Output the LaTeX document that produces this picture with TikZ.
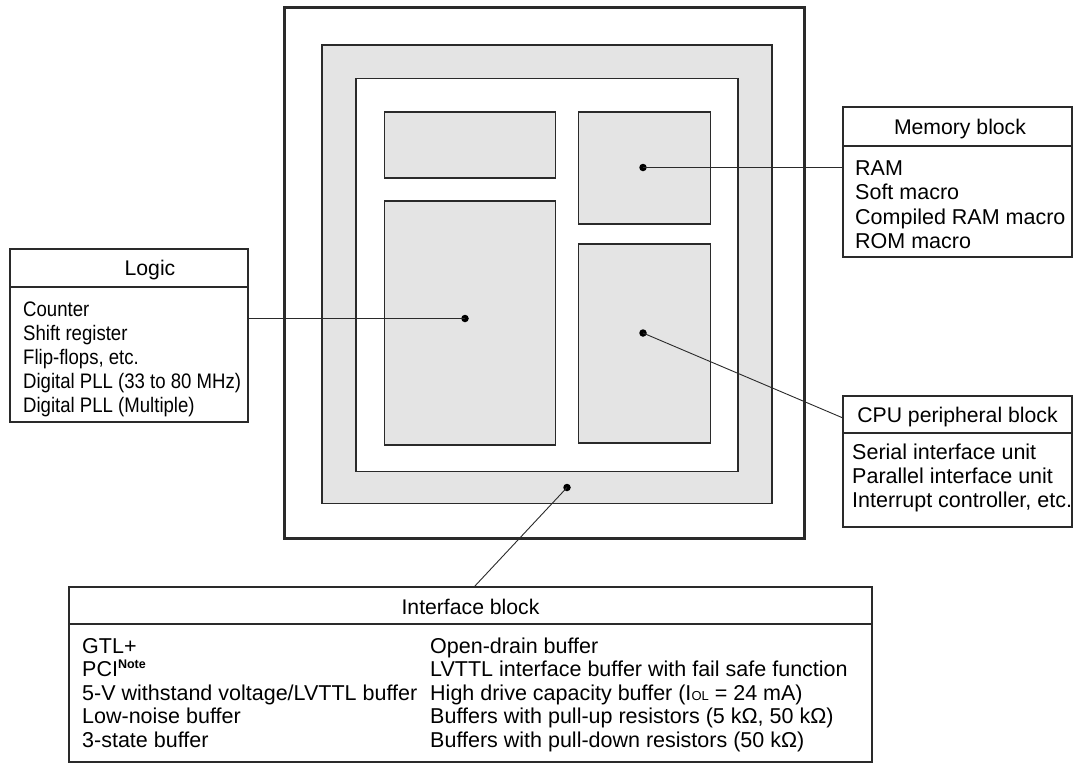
\documentclass[tikz,border=0pt]{standalone}
\usepackage{fontspec}
\setmainfont{Liberation Sans}
\newfontfamily\narrowfont[FakeStretch=0.885]{Liberation Sans}
\definecolor{chipgray}{HTML}{E4E4E4}
\definecolor{ink}{HTML}{2A2A2A}
\begin{document}
\begin{tikzpicture}[x=1pt,y=-1pt,
  chipline/.style={draw=ink, line width=1.2pt},
  blk/.style={chipline, fill=chipgray},
  dotnode/.style={circle, fill=black, inner sep=0pt, minimum size=7.5pt},
  conn/.style={draw=ink, line width=0.9pt},
  boxline/.style={draw=ink, line width=1.4pt},
  ttl/.style={inner sep=0pt, anchor=base, font=\fontsize{21.2}{24}\selectfont},
  item/.style={inner sep=0pt, anchor=base west, font=\fontsize{21.5}{24}\selectfont},
  nitem/.style={inner sep=0pt, anchor=base west, font=\narrowfont\fontsize{21}{24}\selectfont},
]
\useasboundingbox (0,0) rectangle (1073,764);

% ---------- chip ----------
\draw[draw=ink, line width=3pt] (284,7.5) rectangle (804,538.5);
\path[blk] (322,45) rectangle (772,503.6);
\path[chipline, fill=white] (356,78.6) rectangle (738,471.4);
\path[blk] (384.3,112) rectangle (555.3,178);
\path[blk] (384.3,201) rectangle (555.3,445);
\path[blk] (578.3,112) rectangle (710.3,224);
\path[blk] (578.3,244) rectangle (710.3,443);

% ---------- Logic box ----------
\draw[boxline] (10,249) rectangle (248,422);
\draw[boxline] (10,287) -- (248,287);
\coordinate (logicE) at (248,318.5);
\node[ttl] (logicT) at (150,275.4) {Logic};
\node[nitem] (l1) at (23,316.5) {Counter};
\node[nitem] (l2) at (23,340.5) {Shift register};
\node[nitem] (l3) at (23,364.5) {Flip-flops, etc.};
\node[nitem] (l4) at (23,388.5) {Digital PLL (33 to 80 MHz)};
\node[nitem] (l5) at (23,412.5) {Digital PLL (Multiple)};

% ---------- Memory box ----------
\draw[boxline] (843,107) rectangle (1072,257);
\draw[boxline] (843,146) -- (1072,146);
\coordinate (memW) at (843,167.5);
\node[ttl] (memT) at (960,134) {Memory block};
\node[item] (m1) at (855,175.4) {RAM};
\node[item] (m2) at (855,199.8) {Soft macro};
\node[item] (m3) at (855,224.2) {Compiled RAM macro};
\node[item] (m4) at (855,248.6) {ROM macro};

% ---------- CPU box ----------
\draw[boxline] (843,396) rectangle (1072,527);
\draw[boxline] (843,433) -- (1072,433);
\coordinate (cpuW) at (843,418);
\node[ttl] (cpuT) at (957.5,422) {CPU peripheral block};
\node[item] (c1) at (852,459) {Serial interface unit};
\node[item] (c2) at (852,483.2) {Parallel interface unit};
\node[item] (c3) at (852,507.4) {Interrupt controller, etc.};

% ---------- Interface box ----------
\draw[boxline] (69,587) rectangle (872,762);
\draw[boxline] (69,624) -- (872,624);
\coordinate (ifN) at (474,587);
\node[ttl] (ifT) at (470.5,614) {Interface block};
\node[item] (i1) at (82,653.4) {GTL+};
\node[item] (i2) at (82,676.9) {PCI\raisebox{0.75ex}{\fontsize{12.5}{12.5}\selectfont\bfseries Note}};
\node[item] (i3) at (82,700.4) {5-V withstand voltage/LVTTL buffer};
\node[item] (i4) at (82,723.9) {Low-noise buffer};
\node[item] (i5) at (82,747.4) {3-state buffer};
\node[item] (j1) at (430,653.4) {Open-drain buffer};
\node[item] (j2) at (430,676.9) {LVTTL interface buffer with fail safe function};
\node[item] (j3) at (430,700.4) {High drive capacity buffer (I{\fontsize{13}{13}\selectfont OL} = 24 mA)};
\node[item] (j4) at (430,723.9) {Buffers with pull-up resistors (5 kΩ, 50 kΩ)};
\node[item] (j5) at (430,747.4) {Buffers with pull-down resistors (50 kΩ)};

% ---------- dots & connectors ----------
\node[dotnode] (ldot) at (465,318.5) {};
\node[dotnode] (mdot) at (643,167.5) {};
\node[dotnode] (cdot) at (643,333) {};
\node[dotnode] (idot) at (567,487.5) {};
\draw[conn] (ldot.center) -- (logicE);
\draw[conn] (mdot.center) -- (memW);
\draw[conn] (cdot.center) -- (cpuW);
\draw[conn] (idot.center) -- (ifN);
\end{tikzpicture}
\end{document}
